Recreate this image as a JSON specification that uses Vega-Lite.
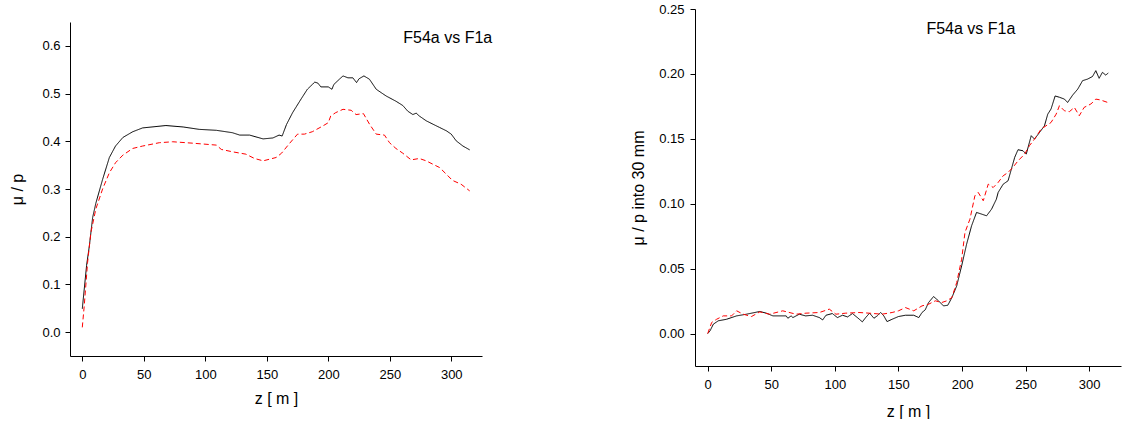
{
  "$schema": "https://vega.github.io/schema/vega-lite/v6.json",
  "padding": {"left": 9, "top": 3, "right": 5, "bottom": 0},
  "spacing": 137,
  "config": {
    "view": {"stroke": null},
    "font": "Liberation Sans",
    "axis": {
      "labelFont": "Liberation Sans", "titleFont": "Liberation Sans",
      "labelFontSize": 13, "titleFontSize": 16, "titleFontWeight": "normal",
      "labelColor": "#000000", "titleColor": "#000000",
      "domainColor": "#000000", "tickColor": "#000000", "domainWidth": 1, "tickWidth": 1,
      "grid": false, "labelOverlap": false
    }
  },
  "datasets": {
    "left": [
      {"s":"F54a","z":0,"v":0.049},{"s":"F54a","z":3.5,"v":0.14},{"s":"F54a","z":5.7,"v":0.18},{"s":"F54a","z":8.4,"v":0.24},{"s":"F54a","z":11,"v":0.27},{"s":"F54a","z":16.5,"v":0.32},{"s":"F54a","z":22,"v":0.366},{"s":"F54a","z":27,"v":0.39},{"s":"F54a","z":33,"v":0.408},{"s":"F54a","z":41,"v":0.42},{"s":"F54a","z":49,"v":0.428},{"s":"F54a","z":68,"v":0.433},{"s":"F54a","z":82,"v":0.43},{"s":"F54a","z":95,"v":0.425},{"s":"F54a","z":109,"v":0.423},{"s":"F54a","z":122,"v":0.418},{"s":"F54a","z":128,"v":0.413},{"s":"F54a","z":136,"v":0.413},{"s":"F54a","z":147,"v":0.405},{"s":"F54a","z":155,"v":0.407},{"s":"F54a","z":160,"v":0.413},{"s":"F54a","z":162.5,"v":0.411},{"s":"F54a","z":166,"v":0.435},{"s":"F54a","z":171,"v":0.46},{"s":"F54a","z":178,"v":0.489},{"s":"F54a","z":183,"v":0.509},{"s":"F54a","z":189,"v":0.524},{"s":"F54a","z":191.5,"v":0.522},{"s":"F54a","z":194,"v":0.514},{"s":"F54a","z":200,"v":0.514},{"s":"F54a","z":203,"v":0.509},{"s":"F54a","z":204.5,"v":0.519},{"s":"F54a","z":209,"v":0.53},{"s":"F54a","z":212,"v":0.537},{"s":"F54a","z":216,"v":0.533},{"s":"F54a","z":220,"v":0.533},{"s":"F54a","z":223,"v":0.523},{"s":"F54a","z":225,"v":0.531},{"s":"F54a","z":229,"v":0.537},{"s":"F54a","z":233.5,"v":0.53},{"s":"F54a","z":239,"v":0.509},{"s":"F54a","z":247,"v":0.495},{"s":"F54a","z":255,"v":0.484},{"s":"F54a","z":260.6,"v":0.475},{"s":"F54a","z":264.7,"v":0.463},{"s":"F54a","z":268.8,"v":0.456},{"s":"F54a","z":271.5,"v":0.459},{"s":"F54a","z":274,"v":0.453},{"s":"F54a","z":279.6,"v":0.443},{"s":"F54a","z":285,"v":0.436},{"s":"F54a","z":290.5,"v":0.429},{"s":"F54a","z":296,"v":0.422},{"s":"F54a","z":300,"v":0.415},{"s":"F54a","z":304,"v":0.401},{"s":"F54a","z":309.5,"v":0.39},{"s":"F54a","z":315,"v":0.382},
      {"s":"F1a","z":0,"v":0.01},{"s":"F1a","z":1.6,"v":0.056},{"s":"F1a","z":4.3,"v":0.146},{"s":"F1a","z":7,"v":0.209},{"s":"F1a","z":11,"v":0.258},{"s":"F1a","z":16.5,"v":0.3},{"s":"F1a","z":22,"v":0.334},{"s":"F1a","z":27,"v":0.355},{"s":"F1a","z":33,"v":0.371},{"s":"F1a","z":41,"v":0.385},{"s":"F1a","z":49,"v":0.39},{"s":"F1a","z":62.6,"v":0.397},{"s":"F1a","z":73.5,"v":0.399},{"s":"F1a","z":90,"v":0.396},{"s":"F1a","z":109,"v":0.392},{"s":"F1a","z":113,"v":0.383},{"s":"F1a","z":122,"v":0.378},{"s":"F1a","z":133,"v":0.373},{"s":"F1a","z":140,"v":0.364},{"s":"F1a","z":147,"v":0.359},{"s":"F1a","z":157.6,"v":0.366},{"s":"F1a","z":162,"v":0.375},{"s":"F1a","z":168,"v":0.394},{"s":"F1a","z":175,"v":0.415},{"s":"F1a","z":180.6,"v":0.415},{"s":"F1a","z":187,"v":0.42},{"s":"F1a","z":195.5,"v":0.432},{"s":"F1a","z":200,"v":0.439},{"s":"F1a","z":202,"v":0.453},{"s":"F1a","z":206,"v":0.46},{"s":"F1a","z":212,"v":0.467},{"s":"F1a","z":218.6,"v":0.465},{"s":"F1a","z":222.6,"v":0.456},{"s":"F1a","z":228.6,"v":0.458},{"s":"F1a","z":233.5,"v":0.436},{"s":"F1a","z":239,"v":0.415},{"s":"F1a","z":245.7,"v":0.413},{"s":"F1a","z":249.8,"v":0.397},{"s":"F1a","z":255,"v":0.385},{"s":"F1a","z":260.6,"v":0.375},{"s":"F1a","z":267.4,"v":0.361},{"s":"F1a","z":274,"v":0.364},{"s":"F1a","z":279.6,"v":0.359},{"s":"F1a","z":285,"v":0.352},{"s":"F1a","z":290.5,"v":0.345},{"s":"F1a","z":296,"v":0.331},{"s":"F1a","z":301,"v":0.318},{"s":"F1a","z":308,"v":0.31},{"s":"F1a","z":315,"v":0.296}
    ],
    "right": [
      {"s":"F54a","z":0,"v":0},{"s":"F54a","z":1.8,"v":0.002},{"s":"F54a","z":4.4,"v":0.0072},{"s":"F54a","z":8.3,"v":0.0098},{"s":"F54a","z":14.8,"v":0.011},{"s":"F54a","z":22.7,"v":0.0136},{"s":"F54a","z":30.5,"v":0.0149},{"s":"F54a","z":41,"v":0.017},{"s":"F54a","z":46,"v":0.0157},{"s":"F54a","z":51.3,"v":0.0136},{"s":"F54a","z":61.7,"v":0.0136},{"s":"F54a","z":63,"v":0.0118},{"s":"F54a","z":65.6,"v":0.0136},{"s":"F54a","z":67,"v":0.0123},{"s":"F54a","z":72,"v":0.0149},{"s":"F54a","z":77,"v":0.0136},{"s":"F54a","z":82.5,"v":0.0141},{"s":"F54a","z":87.8,"v":0.0123},{"s":"F54a","z":90.4,"v":0.0105},{"s":"F54a","z":93,"v":0.0141},{"s":"F54a","z":98,"v":0.0154},{"s":"F54a","z":102,"v":0.0123},{"s":"F54a","z":106,"v":0.0141},{"s":"F54a","z":110,"v":0.0128},{"s":"F54a","z":113.8,"v":0.0154},{"s":"F54a","z":117.7,"v":0.0123},{"s":"F54a","z":121.6,"v":0.009},{"s":"F54a","z":124.2,"v":0.0123},{"s":"F54a","z":127.3,"v":0.0157},{"s":"F54a","z":130.7,"v":0.0118},{"s":"F54a","z":133.3,"v":0.0136},{"s":"F54a","z":136,"v":0.0162},{"s":"F54a","z":138.5,"v":0.0136},{"s":"F54a","z":141,"v":0.0092},{"s":"F54a","z":145,"v":0.011},{"s":"F54a","z":150,"v":0.0131},{"s":"F54a","z":155.5,"v":0.0141},{"s":"F54a","z":162,"v":0.0141},{"s":"F54a","z":166,"v":0.0123},{"s":"F54a","z":168.5,"v":0.0162},{"s":"F54a","z":171,"v":0.0182},{"s":"F54a","z":173.7,"v":0.0239},{"s":"F54a","z":177.6,"v":0.0285},{"s":"F54a","z":181.5,"v":0.0252},{"s":"F54a","z":185.4,"v":0.0213},{"s":"F54a","z":188.8,"v":0.0218},{"s":"F54a","z":192,"v":0.0277},{"s":"F54a","z":195.8,"v":0.0367},{"s":"F54a","z":199.7,"v":0.0522},{"s":"F54a","z":203.6,"v":0.0689},{"s":"F54a","z":207.5,"v":0.083},{"s":"F54a","z":211.4,"v":0.0933},{"s":"F54a","z":215.4,"v":0.092},{"s":"F54a","z":219.3,"v":0.0907},{"s":"F54a","z":223.2,"v":0.0958},{"s":"F54a","z":227,"v":0.1035},{"s":"F54a","z":228.4,"v":0.1087},{"s":"F54a","z":232.3,"v":0.115},{"s":"F54a","z":236.2,"v":0.1177},{"s":"F54a","z":238.8,"v":0.1267},{"s":"F54a","z":241.4,"v":0.1357},{"s":"F54a","z":244,"v":0.1416},{"s":"F54a","z":247.9,"v":0.1408},{"s":"F54a","z":250.5,"v":0.1382},{"s":"F54a","z":254.4,"v":0.1524},{"s":"F54a","z":257,"v":0.1498},{"s":"F54a","z":261,"v":0.155},{"s":"F54a","z":264.8,"v":0.16},{"s":"F54a","z":267.4,"v":0.169},{"s":"F54a","z":270,"v":0.173},{"s":"F54a","z":273.2,"v":0.183},{"s":"F54a","z":276.6,"v":0.182},{"s":"F54a","z":280.5,"v":0.1806},{"s":"F54a","z":283,"v":0.178},{"s":"F54a","z":287,"v":0.1837},{"s":"F54a","z":291,"v":0.1883},{"s":"F54a","z":294.8,"v":0.1948},{"s":"F54a","z":298.7,"v":0.196},{"s":"F54a","z":302.6,"v":0.198},{"s":"F54a","z":305.2,"v":0.2025},{"s":"F54a","z":307.8,"v":0.1966},{"s":"F54a","z":310.4,"v":0.2012},{"s":"F54a","z":313,"v":0.1991},{"s":"F54a","z":315,"v":0.2007},
      {"s":"F1a","z":0,"v":0},{"s":"F1a","z":3.1,"v":0.0085},{"s":"F1a","z":7,"v":0.011},{"s":"F1a","z":12.2,"v":0.0136},{"s":"F1a","z":18.8,"v":0.0136},{"s":"F1a","z":22.7,"v":0.0175},{"s":"F1a","z":27.9,"v":0.0149},{"s":"F1a","z":34.4,"v":0.0131},{"s":"F1a","z":41,"v":0.0167},{"s":"F1a","z":48.7,"v":0.0149},{"s":"F1a","z":59,"v":0.0175},{"s":"F1a","z":69.5,"v":0.0149},{"s":"F1a","z":77.3,"v":0.0157},{"s":"F1a","z":87.8,"v":0.0162},{"s":"F1a","z":95.6,"v":0.0188},{"s":"F1a","z":100.8,"v":0.0149},{"s":"F1a","z":108.6,"v":0.0157},{"s":"F1a","z":119,"v":0.0162},{"s":"F1a","z":127,"v":0.0157},{"s":"F1a","z":137,"v":0.0149},{"s":"F1a","z":145,"v":0.0162},{"s":"F1a","z":150,"v":0.0175},{"s":"F1a","z":155.5,"v":0.02},{"s":"F1a","z":162,"v":0.0175},{"s":"F1a","z":168.5,"v":0.0213},{"s":"F1a","z":173.7,"v":0.0226},{"s":"F1a","z":179,"v":0.0252},{"s":"F1a","z":184,"v":0.0239},{"s":"F1a","z":188,"v":0.0252},{"s":"F1a","z":192,"v":0.0277},{"s":"F1a","z":195.8,"v":0.0393},{"s":"F1a","z":199.7,"v":0.0573},{"s":"F1a","z":202.3,"v":0.0779},{"s":"F1a","z":206.2,"v":0.0881},{"s":"F1a","z":210.1,"v":0.1061},{"s":"F1a","z":212.7,"v":0.1087},{"s":"F1a","z":216.7,"v":0.1023},{"s":"F1a","z":220.6,"v":0.1151},{"s":"F1a","z":224.5,"v":0.1125},{"s":"F1a","z":228.4,"v":0.1164},{"s":"F1a","z":232.3,"v":0.1215},{"s":"F1a","z":236.2,"v":0.1241},{"s":"F1a","z":240,"v":0.128},{"s":"F1a","z":244,"v":0.133},{"s":"F1a","z":249.2,"v":0.1382},{"s":"F1a","z":253,"v":0.1447},{"s":"F1a","z":257,"v":0.1498},{"s":"F1a","z":262.2,"v":0.1575},{"s":"F1a","z":266,"v":0.16},{"s":"F1a","z":270,"v":0.1626},{"s":"F1a","z":274,"v":0.169},{"s":"F1a","z":276.6,"v":0.1755},{"s":"F1a","z":280.5,"v":0.1716},{"s":"F1a","z":284.4,"v":0.1709},{"s":"F1a","z":288.3,"v":0.1742},{"s":"F1a","z":292.2,"v":0.1678},{"s":"F1a","z":296,"v":0.1742},{"s":"F1a","z":301.3,"v":0.1768},{"s":"F1a","z":305.2,"v":0.1806},{"s":"F1a","z":309,"v":0.1799},{"s":"F1a","z":314.3,"v":0.1781}
    ]
  },
  "hconcat": [
    {
      "spacing": 0,
      "vconcat": [
        {
          "width": 1, "height": 13,
          "data": {"values": []},
          "mark": {"type": "point", "opacity": 0},
          "encoding": {}
        },
        {
          "width": 412, "height": 334,
          "layer": [
            {
              "data": {"name": "left"},
              "mark": {"type": "line", "strokeWidth": 1},
              "encoding": {
                "x": {"field": "z", "type": "quantitative", "scale": {"domain": [-10, 325], "nice": false, "zero": false},
                  "axis": {"values": [0,25,50,75,100,125,150,175,200,225,250,275,300,325],
                    "labelExpr": "datum.value % 50 === 0 ? datum.label : ''",
                    "tickSize": {"condition": {"test": "datum.value % 50 === 0", "value": 5}, "value": 3},
                    "labelPadding": 7, "titlePadding": 9, "title": "z  [ m ]"}},
                "y": {"field": "v", "type": "quantitative", "scale": {"domain": [-0.05, 0.65], "nice": false, "zero": false},
                  "axis": {"values": [0,0.05,0.1,0.15,0.2,0.25,0.3,0.35,0.4,0.45,0.5,0.55,0.6],
                    "labelExpr": "round(datum.value*100) % 10 === 0 ? format(datum.value, '.1f') : ''",
                    "tickSize": {"condition": {"test": "round(datum.value*100) % 10 === 0", "value": 5}, "value": 3},
                    "labelPadding": 5, "titlePadding": 16, "title": "μ / p"}},
                "color": {"field": "s", "type": "nominal", "scale": {"domain": ["F54a", "F1a"], "range": ["#000000", "#ff0000"]}, "legend": null},
                "strokeDash": {"field": "s", "type": "nominal", "scale": {"domain": ["F54a", "F1a"], "range": [[1, 0], [5, 3]]}, "legend": null}
              }
            },
            {
              "data": {"values": [{"label": "F54a vs F1a"}]},
              "mark": {"type": "text", "align": "left", "baseline": "alphabetic", "fontSize": 16, "font": "Liberation Sans", "color": "#000000"},
              "encoding": {"x": {"datum": 261}, "y": {"datum": 0.607}, "text": {"field": "label"}}
            }
          ]
        }
      ]
    },
    {
      "width": 426, "height": 357,
      "layer": [
        {
          "data": {"name": "right"},
          "mark": {"type": "line", "strokeWidth": 1},
          "encoding": {
            "x": {"field": "z", "type": "quantitative", "scale": {"domain": [-10, 325], "nice": false, "zero": false},
              "axis": {"values": [0,25,50,75,100,125,150,175,200,225,250,275,300,325],
                "labelExpr": "datum.value % 50 === 0 ? datum.label : ''",
                "tickSize": {"condition": {"test": "datum.value % 50 === 0", "value": 5}, "value": 3},
                "labelPadding": 7, "titlePadding": 12, "title": "z  [ m ]"}},
            "y": {"field": "v", "type": "quantitative", "scale": {"domain": [-0.025, 0.25], "nice": false, "zero": false},
              "axis": {"values": [0,0.025,0.05,0.075,0.1,0.125,0.15,0.175,0.2,0.225,0.25],
                "labelExpr": "round(datum.value*1000) % 50 === 0 ? format(datum.value, '.2f') : ''",
                "tickSize": {"condition": {"test": "round(datum.value*1000) % 50 === 0", "value": 5}, "value": 3},
                "labelPadding": 6, "titlePadding": 12, "title": "μ / p into 30 mm"}},
            "color": {"field": "s", "type": "nominal", "scale": {"domain": ["F54a", "F1a"], "range": ["#000000", "#ff0000"]}, "legend": null},
            "strokeDash": {"field": "s", "type": "nominal", "scale": {"domain": ["F54a", "F1a"], "range": [[1, 0], [5, 3]]}, "legend": null}
          }
        },
        {
          "data": {"values": [{"label": "F54a vs F1a"}]},
          "mark": {"type": "text", "align": "left", "baseline": "alphabetic", "fontSize": 16, "font": "Liberation Sans", "color": "#000000"},
          "encoding": {"x": {"datum": 172}, "y": {"datum": 0.231}, "text": {"field": "label"}}
        }
      ]
    }
  ]
}
